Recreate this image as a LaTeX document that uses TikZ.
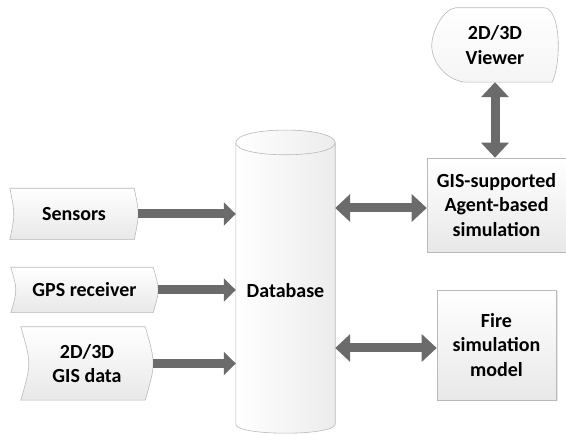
\documentclass[tikz,border=0pt]{standalone}
\usepackage{fontspec}
\setmainfont{Carlito}
\usetikzlibrary{arrows.meta, positioning, calc, backgrounds, shadows}

\begin{document}
\begin{tikzpicture}[
  x=1pt, y=-1pt,
  every node/.style={font=\fontsize{20}{24.5}\selectfont\bfseries, align=center},
  stored/.style={minimum height=51pt, inner sep=0pt},
  box/.style={draw=gray!55, line width=0.6pt, top color=white, bottom color=gray!18, drop shadow={shadow xshift=1.5pt, shadow yshift=-1.5pt, opacity=0.2}},
  surface/.style={draw=gray!55, line width=0.6pt, top color=white, bottom color=gray!18},
  flow/.style={-{Triangle[width=23pt, length=12pt]}, line width=9pt, draw=black!58},
  link/.style={{Triangle[width=27pt, length=15pt]}-{Triangle[width=27pt, length=15pt]}, line width=9pt, draw=black!58},
]
  \useasboundingbox (0,0) rectangle (566,435);

  % Sources
  \node[stored, minimum width=128pt] (sensors) at (74,214) {Sensors};
  \node[stored, minimum width=147pt, minimum height=45pt] (gps) at (84.5,290) {GPS receiver};
  \node[stored, minimum width=132pt, minimum height=73pt] (gisdata) at (87,363.5) {2D/3D\\GIS data};

  % Database
  \node[minimum width=99pt, minimum height=281pt, inner sep=0pt,
        label={[yshift=-7.5pt]center:Database}] (db) at (285.5,283.5) {};

  % Simulation
  \node[box, minimum width=139pt, minimum height=94pt] (agent) at (496.5,205) {GIS-supported\\Agent-based\\simulation};
  \node[box, minimum width=119pt, minimum height=110pt] (fire) at (496.5,345) {Fire\\simulation\\model};
  \node[minimum width=126pt, minimum height=74pt, inner sep=0pt] (viewer) at (495,45) {2D/3D\\Viewer};

  % Outlines
  \begin{scope}[on background layer]
    \foreach \n/\b in {sensors/4, gps/5, gisdata/8}
      \shadedraw[surface] (\n.north west) .. controls ([xshift={1.33*\b pt}]\n.west) .. (\n.south west)
        -- ([xshift={-\b pt}]\n.south east) .. controls ([xshift={0.33*\b pt}]\n.east) .. ([xshift={-\b pt}]\n.north east) -- cycle;

    \shadedraw[draw=gray!55, line width=0.6pt, left color=white, right color=gray!15]
      (db.north west) -- (db.south west)
      .. controls ([yshift=-12pt]db.south west) and ([yshift=-12pt]db.south east) .. (db.south east)
      -- (db.north east)
      .. controls ([yshift=17pt]db.north east) and ([yshift=17pt]db.north west) .. (db.north west) -- cycle;
    \draw[gray!55, line width=0.6pt] (db.north west)
      .. controls ([yshift=-16pt]db.north west) and ([yshift=-16pt]db.north east) .. (db.north east);

    \shadedraw[draw=gray!55, line width=0.6pt, top color=white, bottom color=gray!8]
      ([xshift=24pt]viewer.north west) -- ([xshift=-14pt]viewer.north east)
      .. controls ([xshift=2pt]viewer.north east) and ([xshift=4pt,yshift=22pt]viewer.south east) .. ([xshift=-6pt]viewer.south east)
      -- ([xshift=33pt]viewer.south west)
      .. controls ([xshift=12pt,yshift=3pt]viewer.south west) and ([xshift=1pt,yshift=-16pt]viewer.west) .. ([yshift=-3pt]viewer.west)
      .. controls ([xshift=-1pt,yshift=14pt]viewer.west) and ([xshift=12pt,yshift=-1pt]viewer.north west) .. ([xshift=24pt]viewer.north west) -- cycle;
  \end{scope}

  % Data flow
  \draw[flow] (sensors.east) -- (sensors.east -| db.west);
  \draw[flow] (gps.east) -- (gps.east -| db.west);
  \draw[flow] (gisdata.east) -- (gisdata.east -| db.west);

  \draw[link] ([yshift=-3pt]agent.west -| db.east) -- ([yshift=-3pt]agent.west);
  \draw[link] ([yshift=-3pt]fire.west -| db.east) -- ([yshift=-3pt]fire.west);
  \draw[link] (viewer.south) -- (viewer.south |- agent.north);
\end{tikzpicture}
\end{document}
